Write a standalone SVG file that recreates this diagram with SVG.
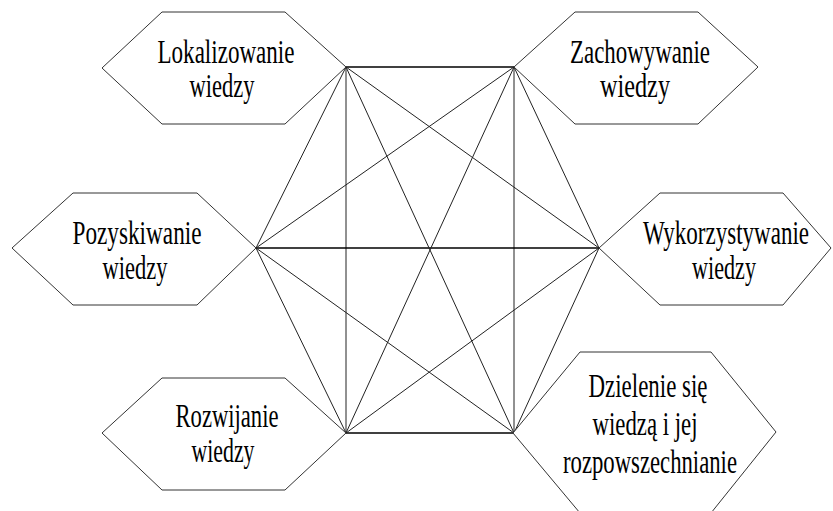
<svg xmlns="http://www.w3.org/2000/svg" width="833" height="511" viewBox="0 0 833 511">
<style>
.hex{fill:#fff;stroke:#333;stroke-width:1}
.ln{stroke:#222;stroke-width:1;fill:none}
.bx{stroke:#000;stroke-width:1.4;fill:none}
text{font-family:"Liberation Serif","Times New Roman",serif;font-size:34px;fill:#000;text-anchor:middle}
</style>
<rect width="833" height="511" fill="#fff"/>
<g id="connectors">
<line class="bx" x1="346" y1="67" x2="514" y2="67"/>
<line class="ln" x1="346" y1="67" x2="346" y2="433"/>
<line class="ln" x1="514" y1="67" x2="514" y2="433"/>
<line class="bx" x1="346" y1="433" x2="514" y2="433"/>
<line class="bx" x1="256" y1="248" x2="599" y2="248"/>
<line class="ln" x1="346" y1="67" x2="514" y2="433"/>
<line class="ln" x1="514" y1="67" x2="346" y2="433"/>
<line class="ln" x1="256" y1="248" x2="346" y2="67"/>
<line class="ln" x1="256" y1="248" x2="514" y2="67"/>
<line class="ln" x1="256" y1="248" x2="346" y2="433"/>
<line class="ln" x1="256" y1="248" x2="514" y2="433"/>
<line class="ln" x1="599" y1="248" x2="346" y2="67"/>
<line class="ln" x1="599" y1="248" x2="514" y2="67"/>
<line class="ln" x1="599" y1="248" x2="346" y2="433"/>
<line class="ln" x1="599" y1="248" x2="514" y2="433"/>
</g>
<g id="lokalizowanie">
<polygon class="hex" points="102,68 162,12 285,12 346,67 285,124 162,124"/>
<text x="226" y="63" textLength="137" lengthAdjust="spacingAndGlyphs">Lokalizowanie</text>
<text x="222" y="97" textLength="65" lengthAdjust="spacingAndGlyphs">wiedzy</text>
</g>
<g id="zachowywanie">
<polygon class="hex" points="514,67 575,12 698,12 758,67 698,124 575,124"/>
<text x="640" y="63" textLength="140" lengthAdjust="spacingAndGlyphs">Zachowywanie</text>
<text x="635" y="97" textLength="70" lengthAdjust="spacingAndGlyphs">wiedzy</text>
</g>
<g id="pozyskiwanie">
<polygon class="hex" points="12,248 73,193 197,193 256,248 197,305 73,305"/>
<text x="137" y="244" textLength="129" lengthAdjust="spacingAndGlyphs">Pozyskiwanie</text>
<text x="135" y="279" textLength="65" lengthAdjust="spacingAndGlyphs">wiedzy</text>
</g>
<g id="wykorzystywanie">
<polygon class="hex" points="599,248 660,193 783,193 831,248 783,305 660,305"/>
<text x="726" y="244" textLength="166" lengthAdjust="spacingAndGlyphs">Wykorzystywanie</text>
<text x="724" y="279" textLength="64" lengthAdjust="spacingAndGlyphs">wiedzy</text>
</g>
<g id="rozwijanie">
<polygon class="hex" points="102,433 162,378 285,378 346,433 285,490 162,490"/>
<text x="227" y="427" textLength="103" lengthAdjust="spacingAndGlyphs">Rozwijanie</text>
<text x="223" y="462" textLength="63" lengthAdjust="spacingAndGlyphs">wiedzy</text>
</g>
<g id="dzielenie">
<polygon class="hex" points="513,433 580,352 711,352 776,432 711,513 580,513"/>
<text x="648" y="397" textLength="119" lengthAdjust="spacingAndGlyphs">Dzielenie się</text>
<text x="645" y="435" textLength="105" lengthAdjust="spacingAndGlyphs">wiedzą i jej</text>
<text x="650" y="473" textLength="174" lengthAdjust="spacingAndGlyphs">rozpowszechnianie</text>
</g>
</svg>
